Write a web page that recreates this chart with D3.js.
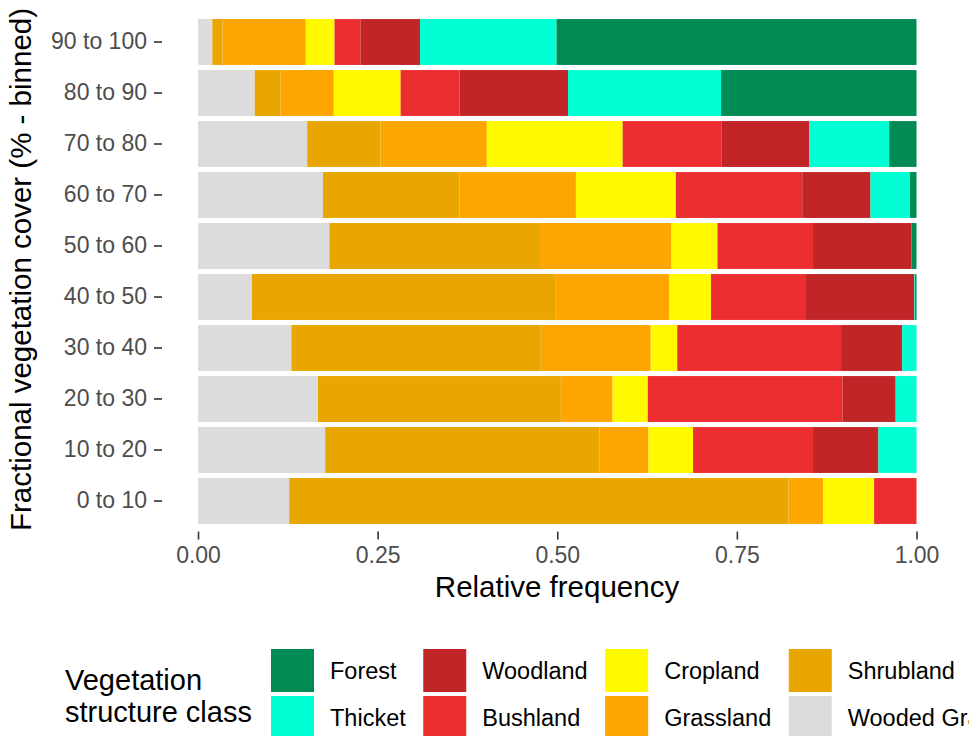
<!DOCTYPE html>
<html>
<head>
<meta charset="utf-8">
<script src="https://cdn.jsdelivr.net/npm/d3@7"></script>
<style>
  html, body { margin: 0; padding: 0; background: #fff; }
  svg { display: block; font-family: "Liberation Sans", Arial, Helvetica, sans-serif; }
</style>
</head>
<body>
<svg id="chart" width="969" height="736"></svg>
<script>
// ---- Data ----
const categories = ["0 to 10", "10 to 20", "20 to 30", "30 to 40", "40 to 50",
                    "50 to 60", "60 to 70", "70 to 80", "80 to 90", "90 to 100"];
// stacking order, left to right
const classes = ["Wooded Grassland", "Shrubland", "Grassland", "Cropland",
                 "Bushland", "Woodland", "Thicket", "Forest"];
const woodedGrassland = [0.127, 0.177, 0.167, 0.130, 0.075, 0.183, 0.174, 0.152, 0.079, 0.020];
const shrubland       = [0.695, 0.382, 0.338, 0.347, 0.423, 0.293, 0.190, 0.102, 0.036, 0.014];
const grassland       = [0.048, 0.068, 0.072, 0.153, 0.158, 0.183, 0.162, 0.148, 0.074, 0.116];
const cropland        = [0.071, 0.062, 0.049, 0.037, 0.058, 0.064, 0.139, 0.189, 0.093, 0.040];
const bushland        = [0.059, 0.167, 0.271, 0.228, 0.131, 0.133, 0.176, 0.138, 0.082, 0.036];
const woodland        = [0.000, 0.091, 0.074, 0.085, 0.152, 0.137, 0.095, 0.122, 0.151, 0.083];
const thicket         = [0.000, 0.053, 0.029, 0.020, 0.001, 0.000, 0.055, 0.111, 0.213, 0.190];
const forest          = [0.000, 0.000, 0.000, 0.000, 0.002, 0.007, 0.009, 0.038, 0.272, 0.501];
const xTicks = [0, 0.25, 0.5, 0.75, 1];
const legendOrder = ["Forest", "Thicket", "Woodland", "Bushland",
                     "Cropland", "Grassland", "Shrubland", "Wooded Grassland"];
const colors = {
  "Forest": "#008A54", "Thicket": "#00FFD3", "Woodland": "#C12527", "Bushland": "#ED2E31",
  "Cropland": "#FFFA00", "Grassland": "#FFA500", "Shrubland": "#E9A500", "Wooded Grassland": "#DCDCDC"
};

const seriesValues = [woodedGrassland, shrubland, grassland, cropland, bushland, woodland, thicket, forest];
const rows = categories.map((c, i) => {
  const r = { category: c };
  classes.forEach((k, j) => r[k] = seriesValues[j][i]);
  return r;
});

// ---- Layout ----
const svg = d3.select("#chart");
const panel = { left: 162, right: 952, top: 11.4, bottom: 531.6 };
const x = d3.scaleLinear().domain([0, 1]).range([198, 916.5]);
const y = d3.scaleBand().domain(categories.slice().reverse())
  .range([panel.top, panel.bottom]).paddingInner(0.1).paddingOuter(0.15);

const stack = d3.stack().keys(classes).offset(d3.stackOffsetExpand);
const stacked = stack(rows);

svg.append("g").selectAll("g").data(stacked).join("g")
  .attr("fill", d => colors[d.key])
  .selectAll("rect").data(d => d).join("rect")
  .attr("x", d => x(d[0]))
  .attr("width", d => Math.max(0, x(d[1]) - x(d[0])))
  .attr("y", d => y(d.data.category))
  .attr("height", y.bandwidth());

// Axes
const yAxis = svg.append("g").attr("transform", `translate(${panel.left},0)`)
  .call(d3.axisLeft(y).tickSize(8).tickPadding(7));
yAxis.select(".domain").remove();
yAxis.selectAll(".tick line").attr("stroke", "#333").attr("stroke-width", 1.6);
yAxis.selectAll(".tick text").attr("fill", "#4D4D4D").style("font-size", "23px");

const xAxis = svg.append("g").attr("transform", `translate(0,${panel.bottom})`)
  .call(d3.axisBottom(x).tickValues(xTicks).tickFormat(d3.format(".2f")).tickSize(8).tickPadding(7));
xAxis.select(".domain").remove();
xAxis.selectAll(".tick line").attr("stroke", "#333").attr("stroke-width", 1.6);
xAxis.selectAll(".tick text").attr("fill", "#4D4D4D").style("font-size", "23px");

// Axis titles
svg.append("text").attr("x", (panel.left + panel.right) / 2).attr("y", 597)
  .attr("text-anchor", "middle").style("font-size", "29.5px").attr("fill", "#000")
  .text("Relative frequency");
svg.append("text")
  .attr("transform", `translate(31,${(panel.top + panel.bottom) / 2 - 2}) rotate(-90)`)
  .attr("text-anchor", "middle").style("font-size", "29.5px").attr("fill", "#000")
  .text("Fractional vegetation cover (% - binned)");

// Legend
const lg = svg.append("g");
lg.append("text").attr("x", 65).attr("y", 690).style("font-size", "29px").text("Vegetation");
lg.append("text").attr("x", 65).attr("y", 722).style("font-size", "29px").text("structure class");

const keySize = 43, keyGap = 4, labelOffset = 59, colGap = 17.5;
const rowY = [649, 649 + keySize + keyGap];
let colX = 271;
for (let c = 0; c < 4; c++) {
  let maxW = 0;
  for (let r = 0; r < 2; r++) {
    const name = legendOrder[c * 2 + r];
    lg.append("rect").attr("x", colX).attr("y", rowY[r])
      .attr("width", keySize).attr("height", keySize).attr("fill", colors[name]);
    const t = lg.append("text").attr("x", colX + labelOffset)
      .attr("y", rowY[r] + keySize / 2 + 8).style("font-size", "23.5px").attr("fill", "#000")
      .text(name);
    maxW = Math.max(maxW, t.node().getComputedTextLength());
  }
  colX = colX + labelOffset + maxW + colGap;
}
</script>
</body>
</html>
